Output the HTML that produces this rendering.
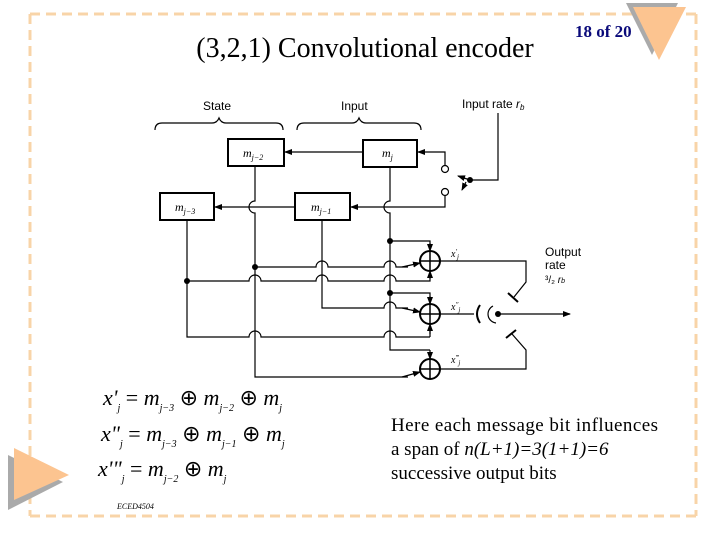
<!DOCTYPE html>
<html><head><meta charset="utf-8"><style>
body{margin:0;background:#fff;}
svg{display:block}
</style></head><body>
<svg width="720" height="540" viewBox="0 0 720 540" xmlns="http://www.w3.org/2000/svg" font-family="Liberation Serif, serif">
<defs>
<marker id="a" markerWidth="8" markerHeight="8" refX="7" refY="4" orient="auto" markerUnits="userSpaceOnUse"><path d="M0,1 L8,4 L0,7z" fill="#000"/></marker>
</defs>
<g stroke="#f8d4a8" stroke-width="3" stroke-dasharray="10,6" fill="none">
<line x1="30" y1="14" x2="696" y2="14"/>
<line x1="30" y1="14" x2="30" y2="516"/>
<line x1="30" y1="516" x2="696" y2="516"/>
<line x1="696" y1="14" x2="696" y2="516"/>
</g>
<polygon points="626,3 678,3 652,55" fill="#aaa"/>
<polygon points="633,7 686,7 659,60" fill="#fcc490"/>
<polygon points="8,455 8,510 63,482" fill="#aaa"/>
<polygon points="14,448 14,500 69,475" fill="#fcc490"/>
<text x="365" y="57" font-size="28" text-anchor="middle">(3,2,1) Convolutional encoder</text>
<text x="575" y="37" font-size="17" font-weight="bold" fill="#0a0a7a">18 of 20</text>

<g font-family="Liberation Sans, sans-serif" font-size="12">
<text x="203" y="110">State</text>
<text x="341" y="110">Input</text>
<text x="462" y="108">Input rate <tspan font-style="italic">r</tspan><tspan font-size="8" font-style="italic" dy="2">b</tspan></text>
<text x="545" y="256">Output</text>
<text x="545" y="269">rate</text>
<text x="545" y="283" font-size="10">³/₂ <tspan font-style="italic">r</tspan><tspan font-size="7" font-style="italic">b</tspan></text>
</g>
<g stroke="#000" fill="none" stroke-width="1.2">
<path d="M155,130 Q155,123 162,123 L212,123 Q217,123 219,118 Q221,123 226,123 L276,123 Q283,123 283,130"/>
<path d="M297,130 Q297,123 304,123 L352,123 Q357,123 359,118 Q361,123 366,123 L414,123 Q421,123 421,130"/>
<rect x="228" y="139" width="56" height="27" stroke-width="2"/>
<rect x="363" y="140" width="54" height="27" stroke-width="2"/>
<rect x="160" y="193" width="54" height="27" stroke-width="2"/>
<rect x="295" y="193" width="55" height="27" stroke-width="2"/>
<circle cx="445" cy="169" r="3.5" fill="#fff"/>
<circle cx="445" cy="192" r="3.5" fill="#fff"/>
<path d="M445,165 V152 H418" marker-end="url(#a)"/>
<path d="M445,196 V207 H351" marker-end="url(#a)"/>
<path d="M363,152 H285" marker-end="url(#a)"/>
<path d="M295,207 H215" marker-end="url(#a)"/>
<path d="M470,180 H498 V113"/>
<path d="M470,180 L458,176" marker-end="url(#a)"/>
<path d="M466,182 L462,190" marker-end="url(#a)"/>
<!-- verticals -->
<path d="M390,167 V201 A6,6 0 0 0 390,213 V350 H430"/>
<path d="M255,166 V201 A6,6 0 0 0 255,213 V377 H408" />
<path d="M187,220 V337 H249 A6,6 0 0 1 261,337 H384 A6,6 0 0 1 396,337 H430"/>
<path d="M322,220 V308 H384 A6,6 0 0 1 396,308 H408"/>
<path d="M390,241 H430 V246"/>
<path d="M255,267 H316 A6,6 0 0 1 328,267 H384 A6,6 0 0 1 396,267 H408"/>
<path d="M187,281 H249 A6,6 0 0 1 261,281 H316 A6,6 0 0 1 328,281 H384 A6,6 0 0 1 396,281 H430 V276"/>
<path d="M390,293 H430 V299"/>
<path d="M430,337 V329"/>
<path d="M430,243 V251" marker-end="url(#a)"/>
<path d="M430,279 V271" marker-end="url(#a)"/>
<path d="M402,267 L420,263" marker-end="url(#a)"/>
<path d="M430,296 V304" marker-end="url(#a)"/>
<path d="M402,308 L420,312" marker-end="url(#a)"/>
<path d="M430,334 V324" marker-end="url(#a)"/>
<path d="M430,350 V359" marker-end="url(#a)"/>
<path d="M402,377 L420,372" marker-end="url(#a)"/>
<circle cx="430" cy="261" r="10" stroke-width="2"/>
<path d="M420,261 H440 M430,251 V271" stroke-width="1.5"/>
<circle cx="430" cy="314" r="10" stroke-width="2"/>
<path d="M420,314 H440 M430,304 V324" stroke-width="1.5"/>
<circle cx="430" cy="369" r="10" stroke-width="2"/>
<path d="M420,369 H440 M430,359 V379" stroke-width="1.5"/>
<path d="M440,261 H526 V282 L514,297"/>
<path d="M508,293 L518,302" stroke-width="2"/>
<path d="M440,314 H474"/>
<path d="M480,305 Q474,314 480,323" stroke-width="2"/>
<path d="M440,369 H526 V350 L512,334"/>
<path d="M506,338 L516,330" stroke-width="2"/>
<path d="M498,314 H570" marker-end="url(#a)"/>
<path d="M493,306 A9,9 0 0 0 496,323" />
</g>
<g fill="#000">
<circle cx="498" cy="314" r="3"/>
<circle cx="470" cy="180" r="3"/>
<circle cx="390" cy="241" r="3"/>
<circle cx="255" cy="267" r="3"/>
<circle cx="187" cy="281" r="3"/>
<circle cx="390" cy="293" r="3"/>
</g>
<g font-style="italic" font-size="12">
<text x="243" y="157">m<tspan font-size="8" dy="3">j−2</tspan></text>
<text x="382" y="157">m<tspan font-size="8" dy="3">j</tspan></text>
<text x="175" y="211">m<tspan font-size="8" dy="3">j−3</tspan></text>
<text x="311" y="211">m<tspan font-size="8" dy="3">j−1</tspan></text>
<text x="451" y="257" font-size="10">x<tspan font-size="7" dy="-3">′</tspan><tspan font-size="7" dy="5">j</tspan></text>
<text x="451" y="310" font-size="10">x<tspan font-size="7" dy="-3">″</tspan><tspan font-size="7" dy="5">j</tspan></text>
<text x="451" y="363" font-size="10">x<tspan font-size="7" dy="-3">‴</tspan><tspan font-size="7" dy="5">j</tspan></text>
</g>
<g font-size="22" font-style="italic">
<text x="103" y="405">x'<tspan font-size="10" dy="6">j</tspan><tspan dy="-6" font-style="normal"> = </tspan>m<tspan font-size="10" dy="6">j−3</tspan><tspan dy="-6" font-style="normal"> ⊕ </tspan>m<tspan font-size="10" dy="6">j−2</tspan><tspan dy="-6" font-style="normal"> ⊕ </tspan>m<tspan font-size="10" dy="6">j</tspan></text>
<text x="101" y="441">x"<tspan font-size="10" dy="6">j</tspan><tspan dy="-6" font-style="normal"> = </tspan>m<tspan font-size="10" dy="6">j−3</tspan><tspan dy="-6" font-style="normal"> ⊕ </tspan>m<tspan font-size="10" dy="6">j−1</tspan><tspan dy="-6" font-style="normal"> ⊕ </tspan>m<tspan font-size="10" dy="6">j</tspan></text>
<text x="98" y="476">x'"<tspan font-size="10" dy="6">j</tspan><tspan dy="-6" font-style="normal"> = </tspan>m<tspan font-size="10" dy="6">j−2</tspan><tspan dy="-6" font-style="normal"> ⊕ </tspan>m<tspan font-size="10" dy="6">j</tspan></text>
</g>
<text x="117" y="509" font-size="8" font-style="italic">ECED4504</text>
<g font-size="19">
<text x="391" y="431" textLength="267">Here each message bit influences</text>
<text x="391" y="455">a span of <tspan font-style="italic">n(L+1)=3(1+1)=6</tspan></text>
<text x="391" y="479">successive output bits</text>
</g>
</svg>
</body></html>
